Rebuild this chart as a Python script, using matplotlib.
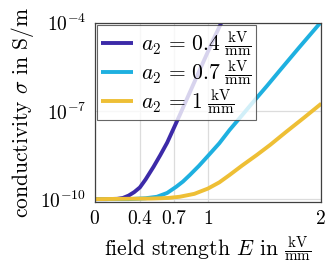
import numpy as np
import matplotlib
matplotlib.use("Agg")
import matplotlib.pyplot as plt

plt.rcParams['font.family'] = 'serif'
plt.rcParams['font.serif'] = ['cmr10', 'DejaVu Serif']
plt.rcParams['mathtext.fontset'] = 'cm'
plt.rcParams['axes.formatter.use_mathtext'] = True

# values (field strength E in kV/mm, log10 of sigma in S/m)
E_a04 = [0, 0.1, 0.2, 0.25, 0.3, 0.35, 0.4, 0.45, 0.52, 0.58, 0.64, 0.75, 0.85, 0.95, 1.05, 1.13]
log_a04 = [-10, -10, -9.99, -9.96, -9.88, -9.76, -9.6, -9.33, -8.9, -8.5, -8.08,
           -7.15, -6.28, -5.41, -4.55, -3.9]

E_a07 = [0, 0.3, 0.45, 0.55, 0.64, 0.72, 0.78, 0.84, 0.92, 1.0, 1.1, 1.19, 1.3, 1.4,
         1.52, 1.63, 1.8, 2.0]
log_a07 = [-10, -10, -9.97, -9.92, -9.79, -9.58, -9.4, -9.18, -8.87, -8.53, -8.1,
           -7.65, -7.15, -6.69, -6.15, -5.64, -4.86, -3.96]

E_a1 = [0, 0.5, 0.65, 0.75, 0.88, 1.0, 1.1, 1.19, 1.3, 1.43, 1.55, 1.69, 1.85, 2.0]
log_a1 = [-10, -9.98, -9.96, -9.92, -9.82, -9.64, -9.43, -9.18, -8.86, -8.5, -8.15,
          -7.71, -7.22, -6.75]

labels = [r'$a_2 \,=\, 0.4\;\frac{\mathrm{kV}}{\mathrm{mm}}$',
          r'$a_2 \,=\, 0.7\;\frac{\mathrm{kV}}{\mathrm{mm}}$',
          r'$a_2 \,=\, 1\;\frac{\mathrm{kV}}{\mathrm{mm}}$']
colors = ['#3c2aa8', '#1eb0e0', '#eebf35']

xticks = [0, 0.4, 0.7, 1, 2]
xticklabels = ['0', '0.4', '0.7', '1', '2']
yticks = [1e-10, 1e-7, 1e-4]

fig = plt.figure(figsize=(3.33, 2.68), dpi=100)
ax = fig.add_axes([0.284, 0.246, 0.681, 0.669])

series = [(E_a04, log_a04), (E_a07, log_a07), (E_a1, log_a1)]
for (e, lg), c, lab in zip(series, colors, labels):
    ax.plot(e, 10.0 ** np.array(lg), color=c, lw=2.8, label=lab, solid_capstyle='butt')

ax.set_yscale('log')
ax.set_xlim(0, 2)
ax.set_ylim(10 ** -10.1, 1e-4)
ax.set_xticks(xticks)
ax.set_xticklabels(xticklabels)
ax.set_yticks(yticks)
ax.minorticks_off()
ax.tick_params(length=0, labelsize=14, pad=6)
ax.grid(True, color='#dcdcdc', lw=0.9)
ax.set_axisbelow(True)
for s in ax.spines.values():
    s.set_color('#404040')
    s.set_linewidth(0.9)

ax.set_xlabel(r'field strength $E$ in $\frac{\mathrm{kV}}{\mathrm{mm}}$', fontsize=15.5, labelpad=4)
ax.set_ylabel(r'conductivity $\sigma$ in $\mathrm{S/m}$', fontsize=15.5, labelpad=3)

leg = ax.legend(loc='upper left', fontsize=15.5, fancybox=False, framealpha=0.8,
                edgecolor='#404040', handlelength=1.5, borderaxespad=0.1,
                labelspacing=0.0, borderpad=0.2, handletextpad=0.35)
leg.get_frame().set_linewidth(0.8)

fig.savefig('out.png', dpi=100)
